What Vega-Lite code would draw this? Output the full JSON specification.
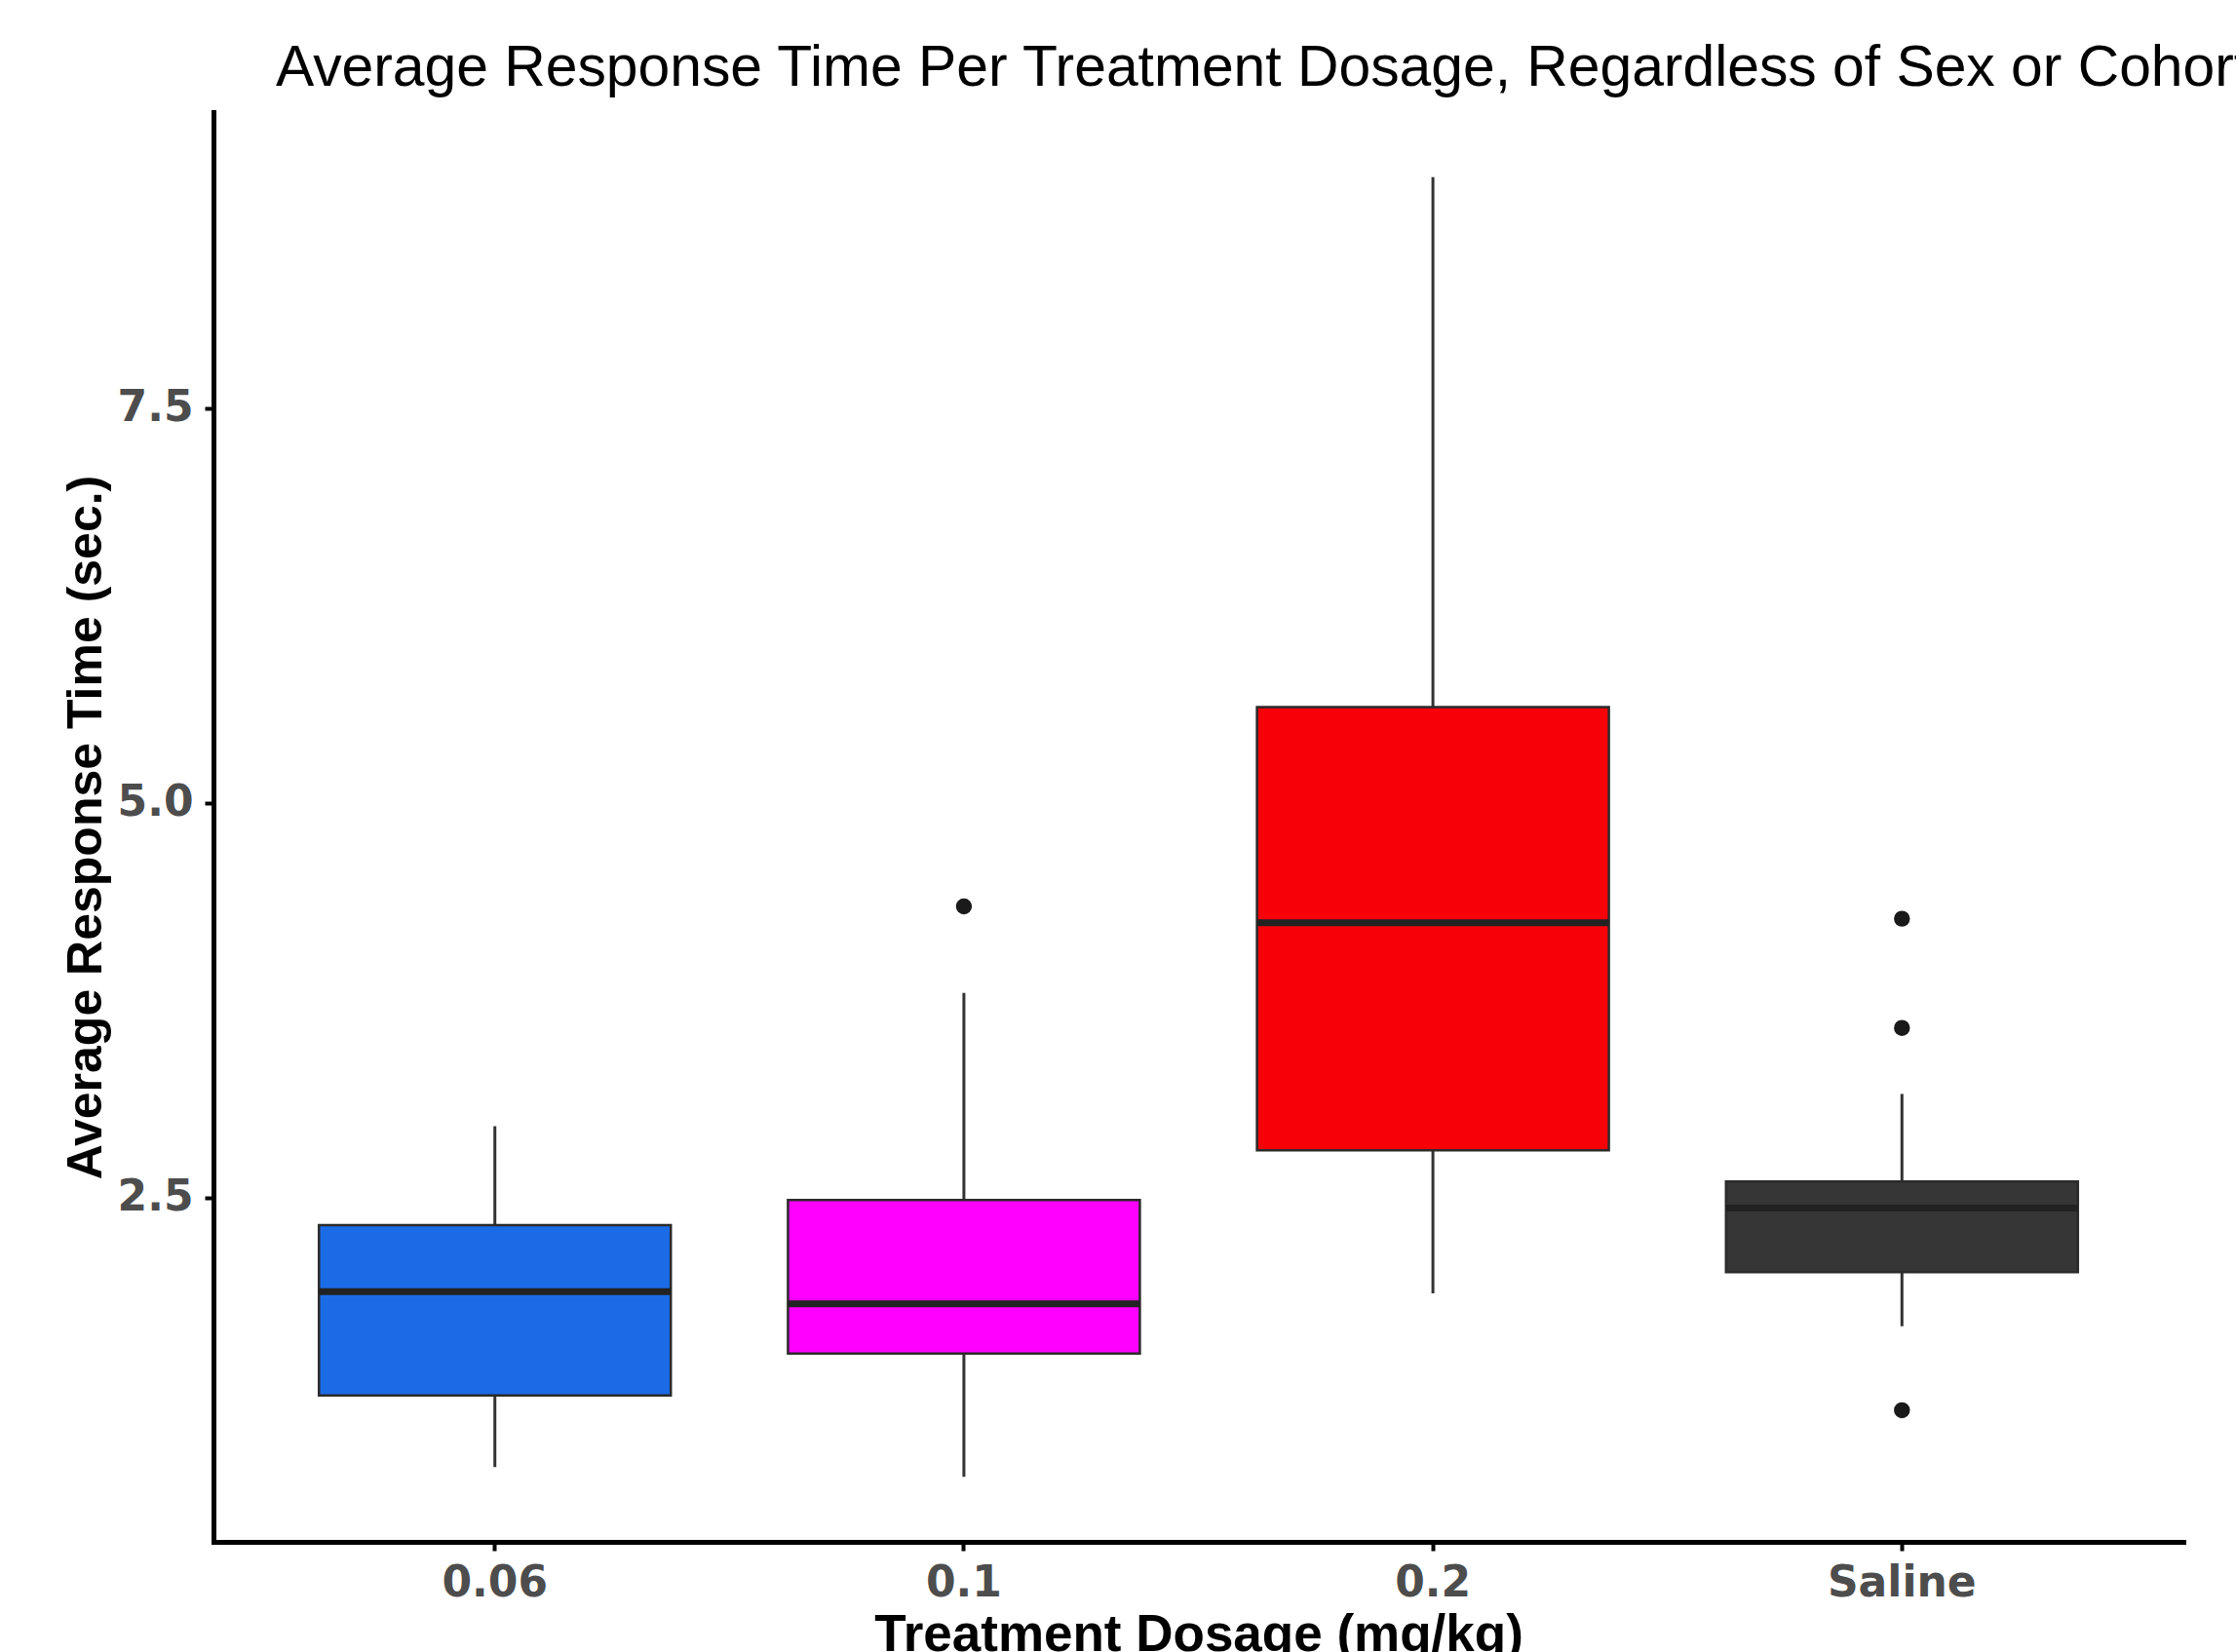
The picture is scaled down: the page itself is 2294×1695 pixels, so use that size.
{
  "$schema": "https://vega.github.io/schema/vega-lite/v6.json",
  "width": 2021,
  "height": 1467,
  "autosize": {"type": "none"},
  "padding": {"left": 219, "top": 115, "right": 54, "bottom": 113},
  "background": "white",
  "view": {"stroke": null},
  "title": {
    "text": "Average Response Time Per Treatment Dosage, Regardless of Sex or Cohort",
    "anchor": "start",
    "frame": "group",
    "dx": 64,
    "dy": 58,
    "offset": 26,
    "baseline": "alphabetic",
    "font": "Liberation Sans",
    "fontSize": 58.8,
    "fontWeight": "normal",
    "color": "#000000"
  },
  "datasets": {
    "summary": [
      {"dosage": "0.06", "lower": 0.792, "q1": 1.245, "median": 1.903, "q3": 2.325, "upper": 2.951},
      {"dosage": "0.1", "lower": 0.730, "q1": 1.511, "median": 1.826, "q3": 2.483, "upper": 3.796},
      {"dosage": "0.2", "lower": 1.893, "q1": 2.798, "median": 4.240, "q3": 5.607, "upper": 8.964},
      {"dosage": "Saline", "lower": 1.684, "q1": 2.027, "median": 2.433, "q3": 2.601, "upper": 3.156}
    ],
    "outliers": [
      {"dosage": "0.1", "value": 4.344},
      {"dosage": "Saline", "value": 4.266},
      {"dosage": "Saline", "value": 3.574},
      {"dosage": "Saline", "value": 1.152}
    ]
  },
  "data": {"name": "summary"},
  "encoding": {
    "x": {
      "field": "dosage",
      "type": "nominal",
      "sort": ["0.06", "0.1", "0.2", "Saline"],
      "scale": {"domain": ["0.06", "0.1", "0.2", "Saline"], "paddingInner": 0, "paddingOuter": 0.1},
      "axis": {
        "title": "Treatment Dosage (mg/kg)",
        "labelAngle": 0,
        "labelFont": "DejaVu Sans",
        "labelFontWeight": "bold",
        "labelFontSize": 44,
        "labelColor": "#4D4D4D",
        "labelBaseline": "alphabetic",
        "labelPadding": 46,
        "labelLimit": 0,
        "tickSize": 9,
        "tickWidth": 4,
        "tickColor": "#000000",
        "domainColor": "#000000",
        "domainWidth": 5,
        "domainCap": "square",
        "grid": false,
        "titleFont": "Liberation Sans",
        "titleFontWeight": "bold",
        "titleFontSize": 53,
        "titleColor": "#000000",
        "titleBaseline": "alphabetic",
        "titleX": 1010.5,
        "titleY": 111
      }
    }
  },
  "layer": [
    {
      "mark": {"type": "rule", "color": "#333333", "strokeWidth": 3},
      "encoding": {
        "y": {
          "field": "lower",
          "type": "quantitative",
          "title": "Average Response Time (sec.)",
          "scale": {"domain": [0.318, 9.376], "nice": false, "zero": false},
          "axis": {
            "values": [2.5, 5, 7.5],
            "format": ".1f",
            "labelFont": "DejaVu Sans",
            "labelFontWeight": "bold",
            "labelFontSize": 44,
            "labelColor": "#4D4D4D",
            "labelPadding": 12,
            "tickSize": 9,
            "tickWidth": 4,
            "tickColor": "#000000",
            "domainColor": "#000000",
            "domainWidth": 5,
            "domainCap": "square",
            "grid": false,
            "titleFont": "Liberation Sans",
            "titleFontWeight": "bold",
            "titleFontSize": 50,
            "titleColor": "#000000",
            "titleBaseline": "alphabetic",
            "titleAngle": -90,
            "titleX": -116,
            "titleY": 733.5
          }
        },
        "y2": {"field": "upper"}
      }
    },
    {
      "mark": {"type": "bar", "size": 361, "stroke": "#2b2b2b", "strokeWidth": 2.5, "opacity": 1},
      "encoding": {
        "y": {"field": "q1", "type": "quantitative", "title": "Average Response Time (sec.)"},
        "y2": {"field": "q3"},
        "fill": {
          "field": "dosage",
          "type": "nominal",
          "scale": {"domain": ["0.06", "0.1", "0.2", "Saline"], "range": ["#1B6BE6", "#FF00FF", "#F70008", "#363636"]},
          "legend": null
        }
      }
    },
    {
      "mark": {"type": "tick", "size": 361, "thickness": 7, "color": "#222222", "opacity": 1},
      "encoding": {
        "y": {"field": "median", "type": "quantitative", "title": "Average Response Time (sec.)"}
      }
    },
    {
      "data": {"name": "outliers"},
      "mark": {"type": "point", "filled": true, "shape": "circle", "size": 270, "color": "#1a1a1a", "opacity": 1},
      "encoding": {
        "y": {"field": "value", "type": "quantitative", "title": "Average Response Time (sec.)"}
      }
    }
  ]
}
